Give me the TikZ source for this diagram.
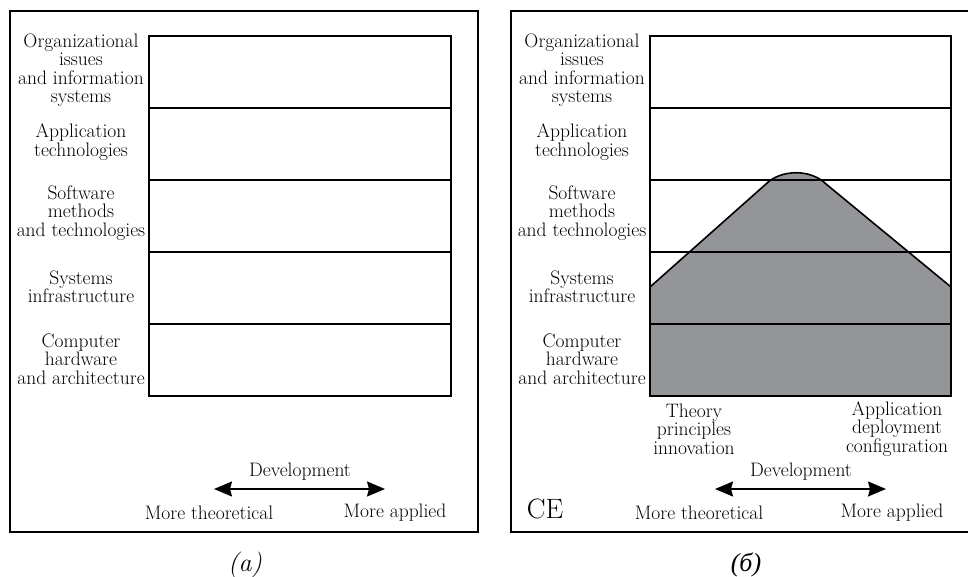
\documentclass[tikz,border=0pt]{standalone}
\usepackage{fontspec}
\newfontfamily\cyrfont{Liberation Serif}
\usetikzlibrary{arrows.meta}
\tikzset{
  frame/.style={line width=2pt},
  layerbox/.style={line width=2pt},
  layerline/.style={line width=1.8pt},
  lbl/.style={align=center,font=\fontsize{19.5}{18.5}\selectfont,inner sep=0pt},
  capt/.style={font=\fontsize{26}{26}\selectfont,inner sep=0pt},
  devarrow/.style={line width=1.6pt,{Stealth[length=18pt,width=15pt,inset=2pt]}-{Stealth[length=18pt,width=15pt,inset=2pt]}}
}
\definecolor{hillgray}{RGB}{148,149,153}
\begin{document}
\begin{tikzpicture}[x=1pt,y=-1pt]
\useasboundingbox (0,0) rectangle (968,577);
\begin{scope}
\clip (0,0) rectangle (968,577);
% ---------- panel (a) ----------
\draw[frame] (10,11) rectangle (478,532);
\draw[layerbox] (149,36) rectangle (451,396);
\foreach \y in {108,180,252,324} \draw[layerline] (149,\y) -- (451,\y);
\node[lbl] (a1) at (81,70) {Organizational\\issues\\and information\\systems};
\node[lbl] (a2) at (81,142) {Application\\technologies};
\node[lbl] (a3) at (81,213) {Software\\methods\\and technologies};
\node[lbl] (a4) at (81,287) {Systems\\infrastructure};
\node[lbl] (a5) at (81,359) {Computer\\hardware\\and architecture};
\node[lbl] (adev) at (300,472) {Development};
\coordinate (aL) at (214,489);
\coordinate (aR) at (385,489);
\draw[devarrow] (aL) -- (aR);
\node[lbl] (ath) at (209,513) {More theoretical};
\node[lbl] (aap) at (395,513) {More applied};
\node[capt] (acap) at (245,565) {\textit{(a)}};
% ---------- panel (b) ----------
\draw[frame] (511,11) rectangle (979,532);
\fill[hillgray] (650,287) -- (766,184) .. controls (781,169) and (811,169) .. (826,184) -- (951,287) -- (951,396) -- (650,396) -- cycle;
\draw[line width=1.6pt] (650,287) -- (766,184) .. controls (781,169) and (811,169) .. (826,184) -- (951,287);
\draw[layerbox] (650,36) rectangle (951,396);
\foreach \y in {108,180,252,324} \draw[layerline] (650,\y) -- (951,\y);
\node[lbl] (b1) at (582,70) {Organizational\\issues\\and information\\systems};
\node[lbl] (b2) at (582,142) {Application\\technologies};
\node[lbl] (b3) at (582,213) {Software\\methods\\and technologies};
\node[lbl] (b4) at (582,287) {Systems\\infrastructure};
\node[lbl] (b5) at (582,359) {Computer\\hardware\\and architecture};
\node[lbl] (bthe) at (694,429) {Theory\\principles\\innovation};
\node[lbl] (bapp) at (897,429) {Application\\deployment\\configuration};
\node[lbl] (bdev) at (801,472) {Development};
\coordinate (bL) at (715,489);
\coordinate (bR) at (886,489);
\draw[devarrow] (bL) -- (bR);
\node[lbl] (bth) at (699,513) {More theoretical};
\node[lbl] (bap) at (892,513) {More applied};
\node[font=\fontsize{28}{28}\selectfont,inner sep=0pt] (ce) at (545,509) {CE};
\node[capt] (bcap) at (746,565) {\cyrfont\itshape (б)};
\end{scope}
\end{tikzpicture}
\end{document}
